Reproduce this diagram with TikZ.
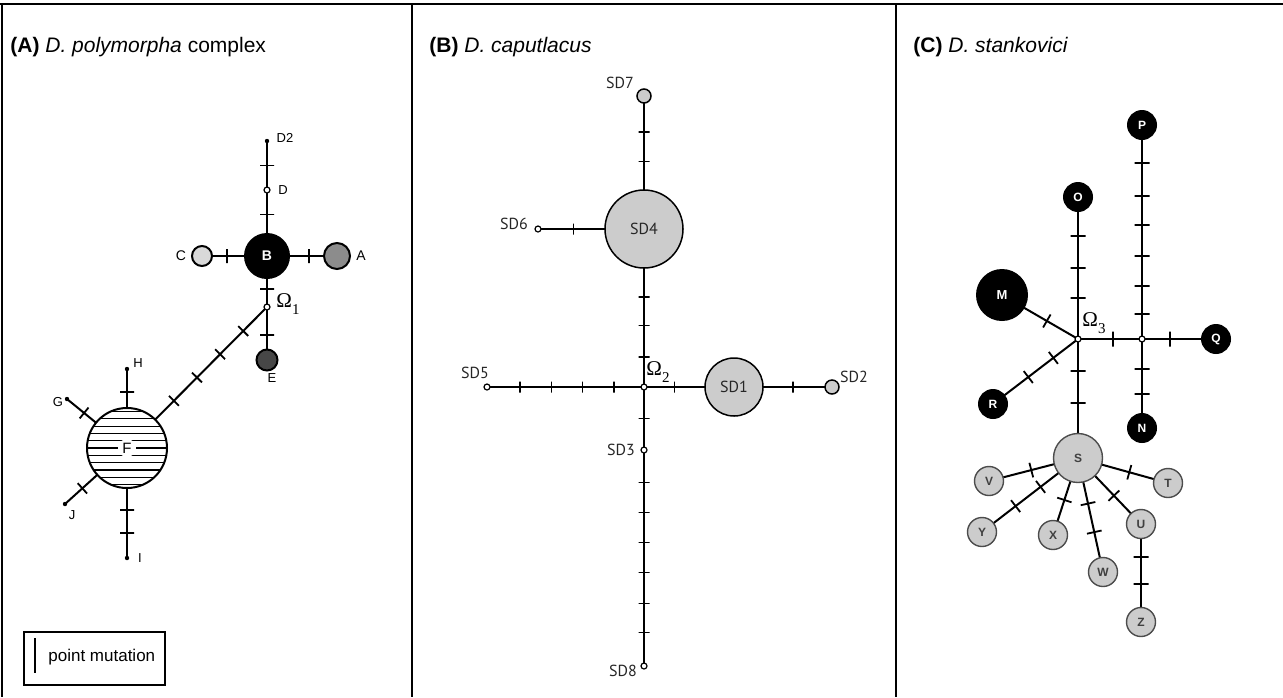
\documentclass[tikz,border=0pt]{standalone}
\usepackage{fontspec}
\setmainfont{Liberation Sans}
\newfontfamily\labfont{PT Sans}
\newfontfamily\omfont{Liberation Serif}
\pgfdeclarelayer{bg}
\pgfsetlayers{bg,main}
\tikzset{
  hap/.style={circle, draw, inner sep=0pt, line width=1pt},
  opn/.style={circle, draw, fill=white, inner sep=0pt, minimum size=3pt, line width=0.6pt},
  dotA/.style={circle, fill=black, inner sep=0pt, minimum size=2.2pt},
  lblA/.style={font=\fontsize{6.5}{7}\selectfont, inner sep=0pt},
  lblB/.style={font=\labfont\fontsize{8}{9}\selectfont, inner sep=0pt, text=black!85},
  edgeA/.style={line width=1pt},
  edgeB/.style={line width=0.75pt},
  edgeC/.style={line width=1pt},
  tka/.style={draw, rectangle, sloped, inner sep=0pt, minimum width=0pt, minimum height=7pt, line width=0.9pt},
  tkb/.style={draw, rectangle, sloped, inner sep=0pt, minimum width=0pt, minimum height=5.5pt, line width=0.7pt},
  tkc/.style={draw, rectangle, sloped, inner sep=0pt, minimum width=0pt, minimum height=7.5pt, line width=0.9pt},
  blk/.style={hap, fill=black, text=white, font=\bfseries\fontsize{6}{7}\selectfont, minimum size=14pt},
  gry/.style={hap, fill=black!20, text=black!75, font=\bfseries\fontsize{6}{7}\selectfont, minimum size=14.5pt, line width=0.7pt, draw=black!70},
  ttl/.style={anchor=base west, inner sep=0pt, font=\fontsize{10.5}{12}\selectfont},
  omg/.style={anchor=south west, inner sep=0pt, font=\omfont\fontsize{10.5}{12}\selectfont}
}
\newcommand{\omsub}[1]{\raisebox{-3.5pt}{\fontsize{7.5}{8}\selectfont #1}}
\begin{document}
\begin{tikzpicture}[x=0.5pt, y=-0.5pt]
\useasboundingbox (0,0) rectangle (1283,697);

% frame and panel separators
\draw[line width=1pt] (0,4) -- (1283,4);
\draw[line width=1pt] (1.5,4) -- (1.5,697);
\draw[line width=1pt] (412,4) -- (412,697);
\draw[line width=1pt] (896,4) -- (896,697);

% panel titles
\node[ttl] (tA) at (10,52) {\textbf{(A)} \textit{D. polymorpha} complex};
\node[ttl] (tB) at (429,52) {\textbf{(B)} \textit{D. caputlacus}};
\node[ttl] (tC) at (913,52) {\textbf{(C)} \textit{D. stankovici}};

% ---------- (A) D. polymorpha complex ----------
\node[hap, fill=black, minimum size=22pt, text=white, font=\bfseries\fontsize{7}{8}\selectfont] (B) at (267,256) {B};
\node[hap, fill=black!15, minimum size=10pt] (C) at (202,256) {};
\node[hap, fill=black!45, minimum size=13pt] (A) at (337,256) {};
\node[opn] (D) at (267,190) {};
\node[dotA] (D2) at (267,141) {};
\node[opn] (O1) at (267,307) {};
\node[hap, fill=black!72, minimum size=10.5pt] (E) at (267,360) {};
\node[hap, fill=white, minimum size=40pt,
  path picture={
    \foreach \k in {-5,...,5}
      \draw[line width=0.6pt] ([yshift=\k*3.65pt]path picture bounding box.west) -- ([yshift=\k*3.65pt]path picture bounding box.east);
    \node[fill=white, inner sep=0pt, minimum width=9pt, minimum height=6pt] at (path picture bounding box.center) {};
  }, font=\fontsize{7.5}{8}\selectfont] (F) at (127,448) {F};
\node[dotA] (H) at (127,369) {};
\node[dotA] (G) at (67,399) {};
\node[dotA] (J) at (65,504) {};
\node[dotA] (I) at (127,558) {};

\node[lblA] (lD2) at (285,138) {D2};
\node[lblA] (lD) at (283,190) {D};
\node[lblA, font=\fontsize{7}{8}\selectfont] (lC) at (181,256) {C};
\node[lblA, font=\fontsize{7}{8}\selectfont] (lA) at (361,256) {A};
\node[lblA] (lE) at (272,378) {E};
\node[lblA] (lH) at (138,363) {H};
\node[lblA] (lG) at (58,402) {G};
\node[lblA] (lJ) at (72,515) {J};
\node[lblA] (lI) at (140,558) {I};
\node[omg] (lO1) at (276,315) {Ω\omsub{1}};

\begin{pgfonlayer}{bg}
\draw[edgeA] (D2.center) -- (D.center) node[tka,pos=.5]{};
\draw[edgeA] (D.center) -- (B.center) node[tka,pos=.37]{};
\draw[edgeA] (C.center) -- (B.center) node[tka,pos=.38]{};
\draw[edgeA] (B.center) -- (A.center) node[tka,pos=.60]{};
\draw[edgeA] (B.center) -- (O1.center) node[tka,pos=.65]{};
\draw[edgeA] (O1.center) -- (E.center) node[tka,pos=.53]{};
\draw[edgeA] (O1.center) -- (F.center)
  node[tka,pos=.17]{} node[tka,pos=.335]{} node[tka,pos=.50]{} node[tka,pos=.665]{};
\draw[edgeA] (H.center) -- (F.center) node[tka,pos=.29]{};
\draw[edgeA] (G.center) -- (F.center) node[tka,pos=.285]{};
\draw[edgeA] (J.center) -- (F.center) node[tka,pos=.28]{};
\draw[edgeA] (F.center) -- (I.center) node[tka,pos=.56]{} node[tka,pos=.77]{};
\end{pgfonlayer}

% legend
\node[draw, line width=1pt, inner sep=0pt, minimum width=70.5pt, minimum height=26.5pt, anchor=north west] (leg) at (23,631) {};
\coordinate (legtop) at (35,638);
\coordinate (legbot) at (35,673);
\draw[line width=1pt] (legtop) -- (legbot);
\node[anchor=west, inner sep=0pt, font=\fontsize{8.5}{10}\selectfont] (legtxt) at (48,657) {point mutation};

% ---------- (B) D. caputlacus ----------
\node[hap, fill=black!20, minimum size=7pt, line width=0.75pt] (SD7) at (644,96) {};
\node[hap, fill=black!20, minimum size=39pt, line width=0.75pt, font=\labfont\fontsize{8}{9}\selectfont, text=black!85] (SD4) at (644,229) {SD4};
\node[opn] (SD6) at (538,229) {};
\node[opn] (O2) at (644,387) {};
\node[opn] (SD5) at (487,387) {};
\node[hap, fill=black!20, minimum size=29pt, line width=0.75pt, font=\labfont\fontsize{8}{9}\selectfont, text=black!85] (SD1) at (734,387) {SD1};
\node[hap, fill=black!20, minimum size=7pt, line width=0.75pt] (SD2) at (832,387) {};
\node[opn] (SD3) at (644,450) {};
\node[opn] (SD8) at (644,666) {};

\node[lblB] (lSD7) at (620,83) {SD7};
\node[lblB] (lSD6) at (514,224) {SD6};
\node[lblB] (lSD5) at (475,373) {SD5};
\node[lblB] (lSD2) at (854,377) {SD2};
\node[lblB] (lSD3) at (621,450) {SD3};
\node[lblB] (lSD8) at (623,671) {SD8};
\node[omg] (lO2) at (646,383) {Ω\omsub{2}};

\begin{pgfonlayer}{bg}
\draw[edgeB] (SD7.center) -- (SD4.center) node[tkb,pos=.27]{} node[tkb,pos=.494]{};
\draw[edgeB] (SD6.center) -- (SD4.center) node[tkb,pos=.333]{};
\draw[edgeB] (SD4.center) -- (O2.center) node[tkb,pos=.43]{} node[tkb,pos=.61]{} node[tkb,pos=.81]{};
\draw[edgeB] (SD5.center) -- (O2.center) node[tkb,pos=.21]{} node[tkb,pos=.41]{} node[tkb,pos=.61]{} node[tkb,pos=.81]{};
\draw[edgeB] (O2.center) -- (SD1.center) node[tkb,pos=.34]{};
\draw[edgeB] (SD1.center) -- (SD2.center) node[tkb,pos=.60]{};
\draw[edgeB] (O2.center) -- (SD3.center) node[tkb,pos=.50]{};
\draw[edgeB] (SD3.center) -- (SD8.center)
  node[tkb,pos=.150]{} node[tkb,pos=.290]{} node[tkb,pos=.429]{} node[tkb,pos=.568]{} node[tkb,pos=.710]{} node[tkb,pos=.846]{};
\end{pgfonlayer}

% ---------- (C) D. stankovici ----------
\node[opn] (O3) at (1078,339) {};
\node[opn] (n2) at (1142,339) {};
\node[blk] (O) at (1078,197) {O};
\node[blk] (P) at (1142,125) {P};
\node[blk, minimum size=25pt, font=\bfseries\fontsize{6.5}{7}\selectfont] (M) at (1002,295) {M};
\node[blk] (Q) at (1216,339) {Q};
\node[blk] (N) at (1142,428) {N};
\node[blk] (R) at (993,404) {R};
\node[gry, minimum size=24.5pt] (S) at (1078,458) {S};
\node[gry] (V) at (989,481) {V};
\node[gry] (T) at (1168,483) {T};
\node[gry] (Y) at (982,532) {Y};
\node[gry] (X) at (1053,535) {X};
\node[gry] (W) at (1103,572) {W};
\node[gry] (U) at (1141,524) {U};
\node[gry] (Z) at (1141,622) {Z};
\node[omg] (lO3) at (1082,334) {Ω\omsub{3}};

\begin{pgfonlayer}{bg}
\draw[edgeC] (O.center) -- (O3.center) node[tkc,pos=.275]{} node[tkc,pos=.50]{} node[tkc,pos=.713]{};
\draw[edgeC] (P.center) -- (n2.center)
  node[tkc,pos=.176]{} node[tkc,pos=.332]{} node[tkc,pos=.467]{} node[tkc,pos=.611]{} node[tkc,pos=.751]{} node[tkc,pos=.885]{};
\draw[edgeC] (M.center) -- (O3.center) node[tkc,pos=.59]{};
\draw[edgeC] (O3.center) -- (n2.center) node[tkc,pos=.55]{};
\draw[edgeC] (n2.center) -- (Q.center) node[tkc,pos=.38]{};
\draw[edgeC] (n2.center) -- (N.center) node[tkc,pos=.34]{} node[tkc,pos=.62]{};
\draw[edgeC] (O3.center) -- (R.center) node[tkc,pos=.29]{} node[tkc,pos=.585]{};
\draw[edgeC] (O3.center) -- (S.center) node[tkc,pos=.27]{} node[tkc,pos=.54]{};
\draw[edgeC] (S.center) -- (V.center) node[tkc,pos=.525]{};
\draw[edgeC] (S.center) -- (T.center) node[tkc,pos=.57]{};
\draw[edgeC] (S.center) -- (Y.center) node[tkc,pos=.39]{} node[tkc,pos=.65]{};
\draw[edgeC] (S.center) -- (X.center) node[tkc,pos=.545]{};
\draw[edgeC] (S.center) -- (W.center) node[tkc,pos=.40]{} node[tkc,pos=.65]{};
\draw[edgeC] (S.center) -- (U.center) node[tkc,pos=.57]{};
\draw[edgeC] (U.center) -- (Z.center) node[tkc,pos=.34]{} node[tkc,pos=.61]{};
\end{pgfonlayer}
\end{tikzpicture}
\end{document}
